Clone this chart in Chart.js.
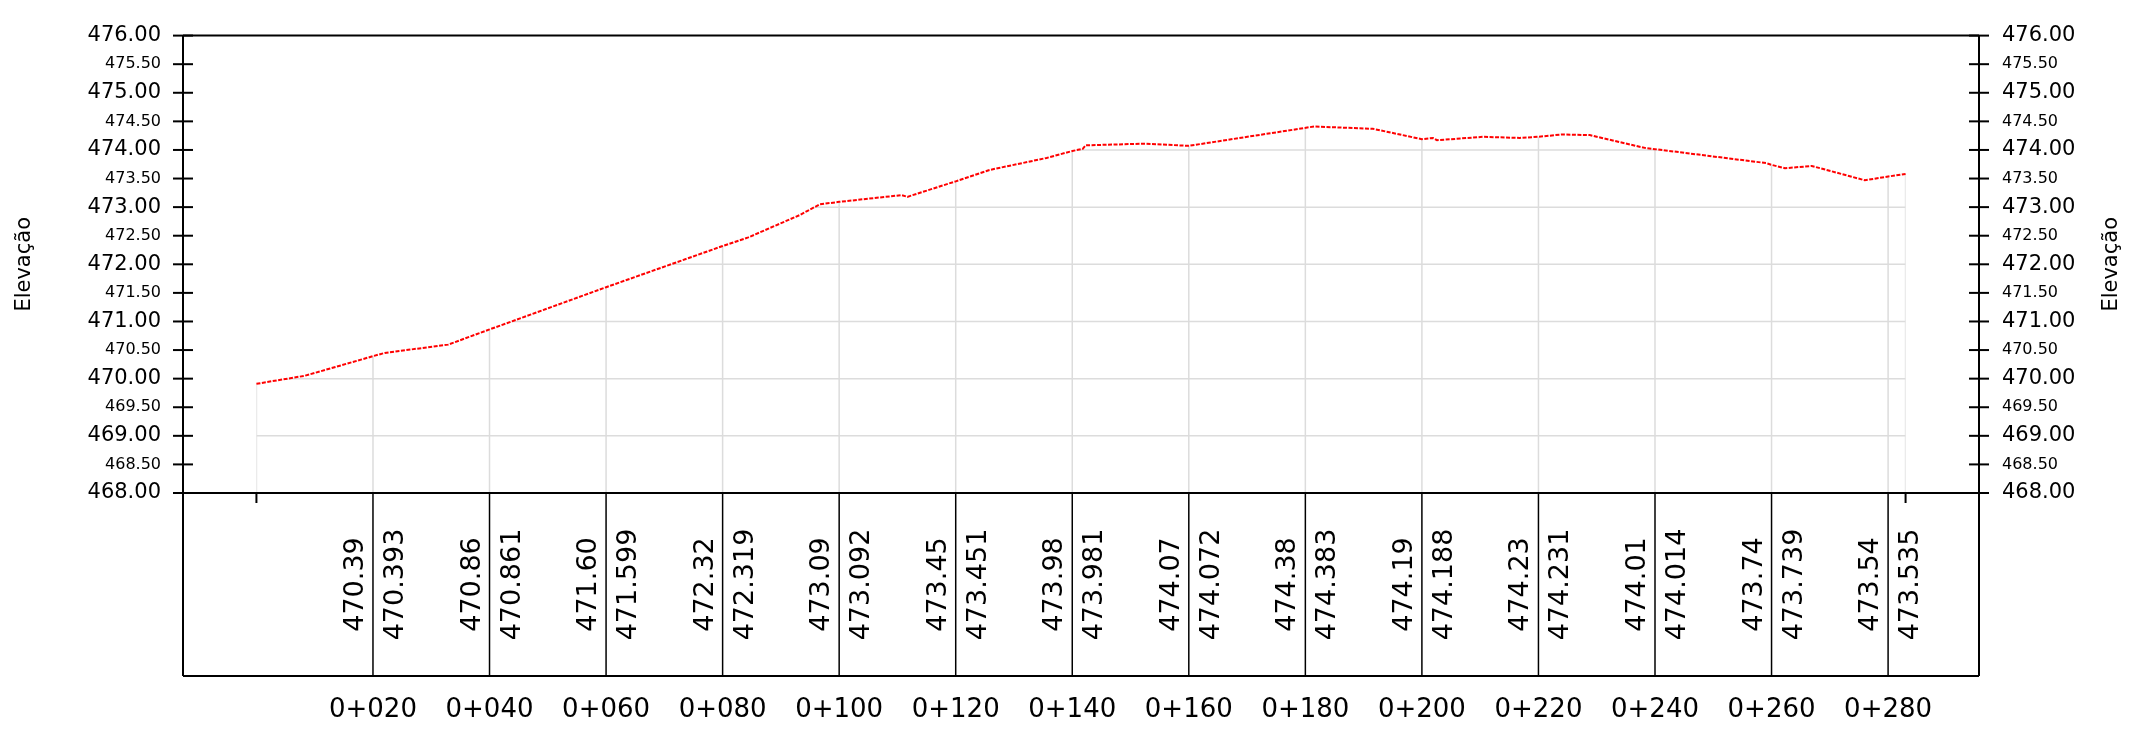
<!DOCTYPE html>
<html lang="pt">
<head>
<meta charset="UTF-8">
<title>Perfil Longitudinal</title>
<script src="https://cdn.jsdelivr.net/npm/chart.js"></script>
<style>
  html, body { margin: 0; padding: 0; background: #fff; }
  #perfil { display: block; }
</style>
</head>
<body>
<canvas id="perfil" width="2131" height="729"></canvas>
<script>
  // estacas (m) e cotas do terreno lidas no perfil
  const estacas = [0, 8.3, 20, 22, 32.9, 40, 60, 80, 84.4, 93.2, 96.7, 100, 110.7, 111.7, 120,
    125.8, 135.6, 140, 141.8, 142.3, 152.2, 160, 181.5, 191.6, 200, 201.9, 202.6, 210.5, 216.8,
    220, 224, 228.8, 238.5, 240, 259.1, 260, 262.3, 266.9, 276, 280, 283];
  const cotas = [469.91, 470.05, 470.393, 470.45, 470.595, 470.861, 471.599, 472.319, 472.47, 472.86,
    473.05, 473.092, 473.21, 473.18, 473.451, 473.65, 473.86, 473.981, 474.02, 474.08, 474.11,
    474.072, 474.41, 474.37, 474.188, 474.21, 474.17, 474.23, 474.21, 474.231, 474.27, 474.26,
    474.03, 474.014, 473.77, 473.739, 473.68, 473.72, 473.47, 473.535, 473.58];

  // estacas da tabela e os dois valores escritos em cada uma
  const estacasTabela = [20, 40, 60, 80, 100, 120, 140, 160, 180, 200, 220, 240, 260, 280];
  const cotasArred = ['470.39', '470.86', '471.60', '472.32', '473.09', '473.45', '473.98',
    '474.07', '474.38', '474.19', '474.23', '474.01', '473.74', '473.54'];
  const cotasTerreno = ['470.393', '470.861', '471.599', '472.319', '473.092', '473.451', '473.981',
    '474.072', '474.383', '474.188', '474.231', '474.014', '473.739', '473.535'];

  const cotaMin = 468, cotaMax = 476;
  const estacaIni = -12.6, estacaFim = 295.6;

  const fonte = '"DejaVu Sans", sans-serif';
  const alturaTabela = 183;

  function linha(ctx, x1, y1, x2, y2) {
    ctx.beginPath();
    ctx.moveTo(x1, y1);
    ctx.lineTo(x2, y2);
    ctx.stroke();
  }

  const desenhoPerfil = {
    id: 'desenhoPerfil',
    beforeDatasetsDraw(chart) {
      // malha cinza somente abaixo do terreno
      const { ctx, chartArea: a, scales: { x, y } } = chart;
      const pts = chart.getDatasetMeta(0).data;
      const x0 = pts[0].x, x1 = pts[pts.length - 1].x;
      ctx.save();
      ctx.beginPath();
      ctx.moveTo(x0, a.bottom);
      pts.forEach(p => ctx.lineTo(p.x, p.y));
      ctx.lineTo(x1, a.bottom);
      ctx.closePath();
      ctx.clip();
      ctx.strokeStyle = '#dcdcdc';
      ctx.lineWidth = 1.5;
      for (let v = cotaMin + 1; v < cotaMax; v++) {
        const py = y.getPixelForValue(v);
        linha(ctx, x0, py, x1, py);
      }
      [estacas[0], ...estacasTabela, estacas[estacas.length - 1]].forEach(s => {
        const px = x.getPixelForValue(s);
        linha(ctx, px, a.top, px, a.bottom);
      });
      ctx.restore();
    },
    afterDraw(chart) {
      const { ctx, chartArea: a, scales: { x, y } } = chart;
      const fundo = a.bottom + alturaTabela;
      ctx.save();
      ctx.strokeStyle = '#000';
      ctx.lineWidth = 2;
      linha(ctx, a.left, a.top, a.right, a.top);
      linha(ctx, a.left, a.top, a.left, fundo);
      linha(ctx, a.right, a.top, a.right, fundo);
      linha(ctx, a.left - 10, a.bottom, a.right + 10, a.bottom);
      linha(ctx, a.left, fundo, a.right, fundo);
      y.ticks.forEach(t => {
        const py = y.getPixelForValue(t.value);
        linha(ctx, a.left - 10, py, a.left + 10, py);
        linha(ctx, a.right - 10, py, a.right + 10, py);
      });
      [estacas[0], estacas[estacas.length - 1]].forEach(s => {
        const px = x.getPixelForValue(s);
        linha(ctx, px, a.bottom, px, a.bottom + 10);
      });

      // tabela de cotas
      ctx.lineWidth = 1.5;
      const cy = a.bottom + alturaTabela / 2;
      ctx.fillStyle = '#000';
      ctx.font = '27px ' + fonte;
      ctx.textAlign = 'center';
      ctx.textBaseline = 'alphabetic';
      estacasTabela.forEach((s, i) => {
        const px = x.getPixelForValue(s);
        linha(ctx, px, a.bottom, px, fundo);
        ctx.save();
        ctx.translate(px - 10, cy);
        ctx.rotate(-Math.PI / 2);
        ctx.fillText(cotasArred[i], 0, 0);
        ctx.restore();
        ctx.save();
        ctx.translate(px + 30, cy);
        ctx.rotate(-Math.PI / 2);
        ctx.fillText(cotasTerreno[i], 0, 0);
        ctx.restore();
      });

      // titulos dos eixos
      ctx.font = '21px ' + fonte;
      ctx.textBaseline = 'middle';
      const ty = (a.top + a.bottom) / 2;
      [25, chart.width - 19].forEach(tx => {
        ctx.save();
        ctx.translate(tx, ty);
        ctx.rotate(-Math.PI / 2);
        ctx.fillText('Elevação', 0, 0);
        ctx.restore();
      });
      ctx.restore();
    }
  };

  const fonteCota = c => ({ family: fonte, size: c.tick && c.tick.value % 1 === 0 ? 21 : 16 });

  new Chart(document.getElementById('perfil'), {
    type: 'line',
    data: {
      datasets: [{
        data: estacas.map((e, i) => ({ x: e, y: cotas[i] })),
        borderColor: '#ff0000',
        borderWidth: 2,
        borderDash: [4, 1.5],
        pointRadius: 0,
        tension: 0,
        fill: false
      }]
    },
    options: {
      responsive: false,
      animation: false,
      devicePixelRatio: 1,
      layout: { padding: { top: 27 } },
      plugins: { legend: { display: false }, tooltip: { enabled: false } },
      scales: {
        x: {
          type: 'linear',
          min: estacaIni,
          max: estacaFim,
          grid: { display: false, drawTicks: false },
          border: { display: false },
          // o padding grande dos rotulos nao deve empurrar a area do grafico
          afterFit: s => { s.height = 236; s.paddingLeft = 0; s.paddingRight = 0; },
          afterBuildTicks: s => { s.ticks = estacasTabela.map(v => ({ value: v })); },
          ticks: {
            autoSkip: false,
            maxRotation: 0,
            padding: 202,
            color: '#000',
            font: { family: fonte, size: 26 },
            callback: v => '0+' + String(v).padStart(3, '0')
          }
        },
        y: {
          position: 'left',
          min: cotaMin,
          max: cotaMax,
          grid: { display: false, drawTicks: false },
          border: { display: false },
          afterFit: s => { s.width = 183; },
          ticks: { stepSize: 0.5, autoSkip: false, padding: 22, color: '#000', font: fonteCota, callback: v => v.toFixed(2) }
        },
        y2: {
          position: 'right',
          min: cotaMin,
          max: cotaMax,
          grid: { display: false, drawTicks: false },
          border: { display: false },
          afterFit: s => { s.width = 152; },
          ticks: { stepSize: 0.5, autoSkip: false, padding: 23, color: '#000', font: fonteCota, callback: v => v.toFixed(2) }
        }
      }
    },
    plugins: [desenhoPerfil]
  });
</script>
</body>
</html>
